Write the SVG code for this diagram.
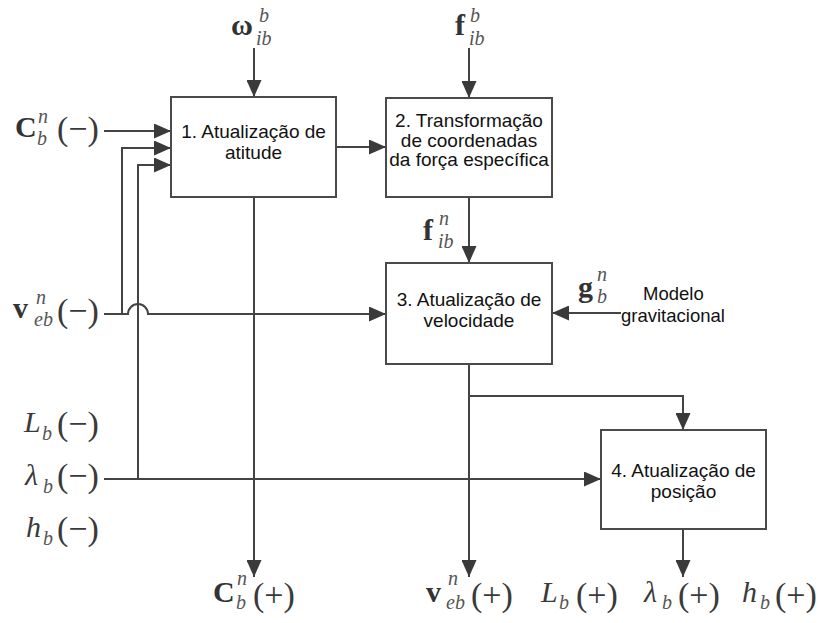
<svg xmlns="http://www.w3.org/2000/svg" width="822" height="623" viewBox="0 0 822 623">
<defs>
<marker id="ah" markerUnits="userSpaceOnUse" markerWidth="17" markerHeight="15" refX="17" refY="7.5" orient="auto">
<path d="M0,0 L17,7.5 L0,15 Z" fill="#3a3a3a"/>
</marker>
<style>
.box{fill:#fff;stroke:#4a4a4a;stroke-width:2}
.c{fill:none;stroke:#444;stroke-width:2}
.a{marker-end:url(#ah)}
.t{font-family:"Liberation Sans",Arial,sans-serif;font-size:19px;fill:#111;text-anchor:middle}
.mb{font-family:"Liberation Serif","Times New Roman",serif;font-weight:bold;font-size:30px;fill:#333}
.mi{font-family:"Liberation Serif","Times New Roman",serif;font-style:italic;font-size:30px;fill:#3a3a3a}
.s{font-family:"Liberation Serif","Times New Roman",serif;font-style:italic;font-size:20px;fill:#555}
.p{font-family:"Liberation Serif","Times New Roman",serif;font-size:34px;fill:#3a3a3a}
.g{font-family:"Liberation Sans",Arial,sans-serif;font-size:18.5px;fill:#111}
</style>
</defs>
<rect width="822" height="623" fill="#fff"/>

<g id="connectors">
<line class="c a" x1="254" y1="48" x2="254" y2="97"/>
<line class="c a" x1="469" y1="48" x2="469" y2="98"/>
<line class="c a" x1="336" y1="147" x2="386" y2="147"/>
<line class="c a" x1="104" y1="131" x2="171" y2="131"/>
<path class="c a" d="M122,314 V148 H171"/>
<path class="c a" d="M138,479 V165 H171"/>
<path class="c a" d="M104,314 H128 A10,10 0 0 1 148,314 H386"/>
<line class="c a" x1="469" y1="197" x2="469" y2="263"/>
<line class="c a" x1="621" y1="313" x2="552" y2="313"/>
<line class="c a" x1="254" y1="197" x2="254" y2="577"/>
<line class="c a" x1="469" y1="364" x2="469" y2="577"/>
<path class="c a" d="M469,396 H683 V430"/>
<line class="c a" x1="104" y1="479" x2="601" y2="479"/>
<line class="c a" x1="683" y1="529" x2="683" y2="577"/>
</g>

<g id="node1">
<rect class="box" x="171" y="97" width="165" height="100"/>
<text class="t" x="253.5" y="138">1. Atualização de</text>
<text class="t" x="253.5" y="159">atitude</text>
</g>
<g id="node2">
<rect class="box" x="386" y="98" width="166" height="99"/>
<text class="t" x="469" y="127">2. Transformação</text>
<text class="t" x="469" y="147">de coordenadas</text>
<text class="t" x="469" y="166">da força específica</text>
</g>
<g id="node3">
<rect class="box" x="386" y="263" width="166" height="101"/>
<text class="t" x="469" y="306">3. Atualização de</text>
<text class="t" x="469" y="327">velocidade</text>
</g>
<g id="node4">
<rect class="box" x="601" y="430" width="165" height="99"/>
<text class="t" x="683.5" y="477">4. Atualização de</text>
<text class="t" x="683.5" y="498">posição</text>
</g>

<g id="gravity">
<text class="g" x="643" y="300">Modelo</text>
<text class="g" x="621" y="322">gravitacional</text>
<text><tspan class="mb" x="578" y="297">g</tspan><tspan class="s" x="597" y="281">n</tspan><tspan class="s" x="597" y="303">b</tspan></text>
</g>

<g id="labels">
<text><tspan class="mb" x="231" y="35">ω</tspan><tspan class="s" x="259" y="22">b</tspan><tspan class="s" x="256" y="45">ib</tspan></text>
<text><tspan class="mb" x="455" y="35">f</tspan><tspan class="s" x="470" y="22">b</tspan><tspan class="s" x="469" y="45">ib</tspan></text>
<text><tspan class="mb" x="423" y="240">f</tspan><tspan class="s" x="439" y="225">n</tspan><tspan class="s" x="438" y="248">ib</tspan></text>

<text><tspan class="mb" x="15" y="137">C</tspan><tspan class="s" x="38" y="123">n</tspan><tspan class="s" x="37" y="145">b</tspan><tspan class="p" x="57" y="140">(−)</tspan></text>
<text><tspan class="mb" x="13" y="318">v</tspan><tspan class="s" x="36" y="304">n</tspan><tspan class="s" x="34" y="326">eb</tspan><tspan class="p" x="57" y="322">(−)</tspan></text>
<text><tspan class="mi" x="24" y="432">L</tspan><tspan class="s" x="42" y="440">b</tspan><tspan class="p" x="57" y="435">(−)</tspan></text>
<text><tspan class="mi" x="25" y="485">λ</tspan><tspan class="s" x="43" y="493">b</tspan><tspan class="p" x="57" y="487">(−)</tspan></text>
<text><tspan class="mi" x="26" y="537">h</tspan><tspan class="s" x="43" y="545">b</tspan><tspan class="p" x="57" y="540">(−)</tspan></text>

<text><tspan class="mb" x="213" y="602">C</tspan><tspan class="s" x="237" y="585">n</tspan><tspan class="s" x="236" y="609">b</tspan><tspan class="p" x="253" y="606">(+)</tspan></text>
<text><tspan class="mb" x="426" y="602">v</tspan><tspan class="s" x="448" y="585">n</tspan><tspan class="s" x="446" y="609">eb</tspan><tspan class="p" x="471" y="606">(+)</tspan></text>
<text><tspan class="mi" x="541" y="602">L</tspan><tspan class="s" x="559" y="609">b</tspan><tspan class="p" x="576" y="606">(+)</tspan></text>
<text><tspan class="mi" x="644" y="602">λ</tspan><tspan class="s" x="662" y="609">b</tspan><tspan class="p" x="678" y="606">(+)</tspan></text>
<text><tspan class="mi" x="742" y="602">h</tspan><tspan class="s" x="760" y="609">b</tspan><tspan class="p" x="775" y="606">(+)</tspan></text>
</g>
</svg>
